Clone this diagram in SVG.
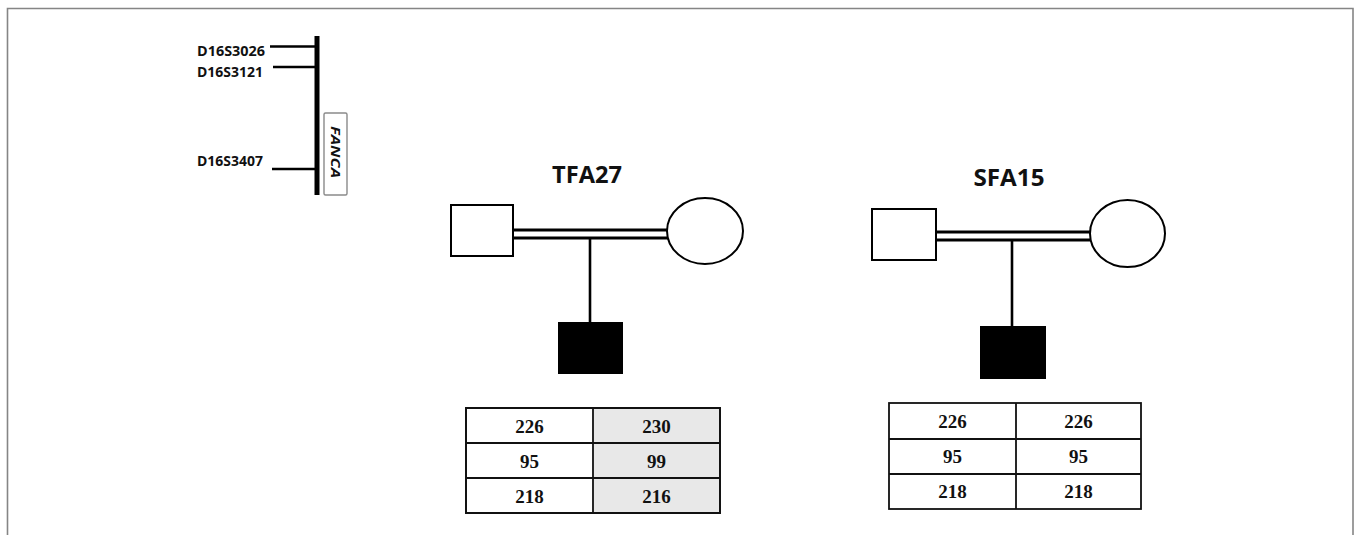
<svg xmlns="http://www.w3.org/2000/svg" width="1356" height="535" viewBox="0 0 1356 535">
  <style>
    .frame { fill: none; stroke: #858585; stroke-width: 1.6; }
    .ind { fill: #ffffff; stroke: #000; stroke-width: 2; }
    .aff { fill: #000; stroke: #000; stroke-width: 2; }
    .line { stroke: #000; stroke-width: 2.6; fill: none; }
    .dbl { stroke: #000; stroke-width: 3.2; fill: none; }
    .mk { font-family: "Open Sans", "Liberation Sans", sans-serif; font-weight: bold; font-size: 14.5px; fill: #111; }
    .ttl { font-family: "Open Sans", "Liberation Sans", sans-serif; font-weight: bold; font-size: 23px; fill: #111; text-anchor: middle; }
    .cell { font-family: "Liberation Serif", "Times New Roman", serif; font-weight: bold; font-size: 19px; fill: #111; text-anchor: middle; }
    .tb { fill: #fff; stroke: #111; stroke-width: 1.8; }
    .gray { fill: #e8e8e8; stroke: none; }
    .grid { stroke: #111; stroke-width: 1.8; fill: none; }
  </style>
  <rect x="0" y="0" width="1356" height="535" fill="#fff"/>
  <path class="frame" d="M7.5,540 V8.5 H1353 V540"/>

  <g id="chromosome-map">
    <rect x="314.5" y="36" width="5" height="159" fill="#000"/>
    <line class="line" x1="270" y1="46.5" x2="316" y2="46.5"/>
    <line class="line" x1="273" y1="67" x2="316" y2="67"/>
    <line class="line" x1="272" y1="169" x2="316" y2="169"/>
    <text class="mk" x="197" y="55.5" textLength="68" lengthAdjust="spacingAndGlyphs">D16S3026</text>
    <text class="mk" x="197" y="77" textLength="66" lengthAdjust="spacingAndGlyphs">D16S3121</text>
    <text class="mk" x="197" y="166" textLength="66" lengthAdjust="spacingAndGlyphs">D16S3407</text>
    <rect x="324" y="113" width="23" height="82" rx="1.5" fill="#fff" stroke="#8a8a8a" stroke-width="1.4"/>
    <text transform="translate(331,152) rotate(90)" font-family="Open Sans, Liberation Sans, sans-serif" font-weight="bold" font-style="italic" font-size="13" fill="#111" text-anchor="middle" textLength="52" lengthAdjust="spacingAndGlyphs">FANCA</text>
  </g>

  <g id="connectors">
    <line class="dbl" x1="513" y1="230" x2="668" y2="230"/>
    <line class="dbl" x1="513" y1="238" x2="668" y2="238"/>
    <line class="line" x1="590" y1="238" x2="590" y2="323"/>
    <line class="dbl" x1="936" y1="232" x2="1091" y2="232"/>
    <line class="dbl" x1="936" y1="240" x2="1091" y2="240"/>
    <line class="line" x1="1012" y1="240" x2="1012" y2="327"/>
  </g>

  <g id="TFA27">
    <text class="ttl" x="587" y="183" textLength="70" lengthAdjust="spacingAndGlyphs">TFA27</text>
    <g id="TFA27-father"><rect class="ind" x="451" y="205" width="62" height="51"/></g>
    <g id="TFA27-mother"><ellipse class="ind" cx="705" cy="231" rx="38" ry="33"/></g>
    <g id="TFA27-child"><rect class="aff" x="559" y="323" width="63" height="50"/></g>
    <g id="TFA27-table">
      <rect class="tb" x="466" y="408" width="254" height="105"/>
      <rect class="gray" x="594" y="409" width="125" height="103"/>
      <path class="grid" d="M466,408 H720 V513 H466 Z M593,408 V513 M466,443 H720 M466,478 H720"/>
      <text class="cell" x="529.5" y="433">226</text>
      <text class="cell" x="656.5" y="433">230</text>
      <text class="cell" x="529.5" y="468">95</text>
      <text class="cell" x="656.5" y="468">99</text>
      <text class="cell" x="529.5" y="503">218</text>
      <text class="cell" x="656.5" y="503">216</text>
    </g>
  </g>

  <g id="SFA15">
    <text class="ttl" x="1009" y="186" textLength="71" lengthAdjust="spacingAndGlyphs">SFA15</text>
    <g id="SFA15-father"><rect class="ind" x="872" y="209" width="64" height="51"/></g>
    <g id="SFA15-mother"><ellipse class="ind" cx="1127.5" cy="233.5" rx="37.5" ry="33.5"/></g>
    <g id="SFA15-child"><rect class="aff" x="981" y="327" width="64" height="51"/></g>
    <g id="SFA15-table">
      <rect class="tb" x="889" y="403" width="252" height="106"/>
      <path class="grid" d="M1016,403 V509 M889,439 H1141 M889,474 H1141"/>
      <text class="cell" x="952.5" y="428">226</text>
      <text class="cell" x="1078.5" y="428">226</text>
      <text class="cell" x="952.5" y="463">95</text>
      <text class="cell" x="1078.5" y="463">95</text>
      <text class="cell" x="952.5" y="498">218</text>
      <text class="cell" x="1078.5" y="498">218</text>
    </g>
  </g>
</svg>
